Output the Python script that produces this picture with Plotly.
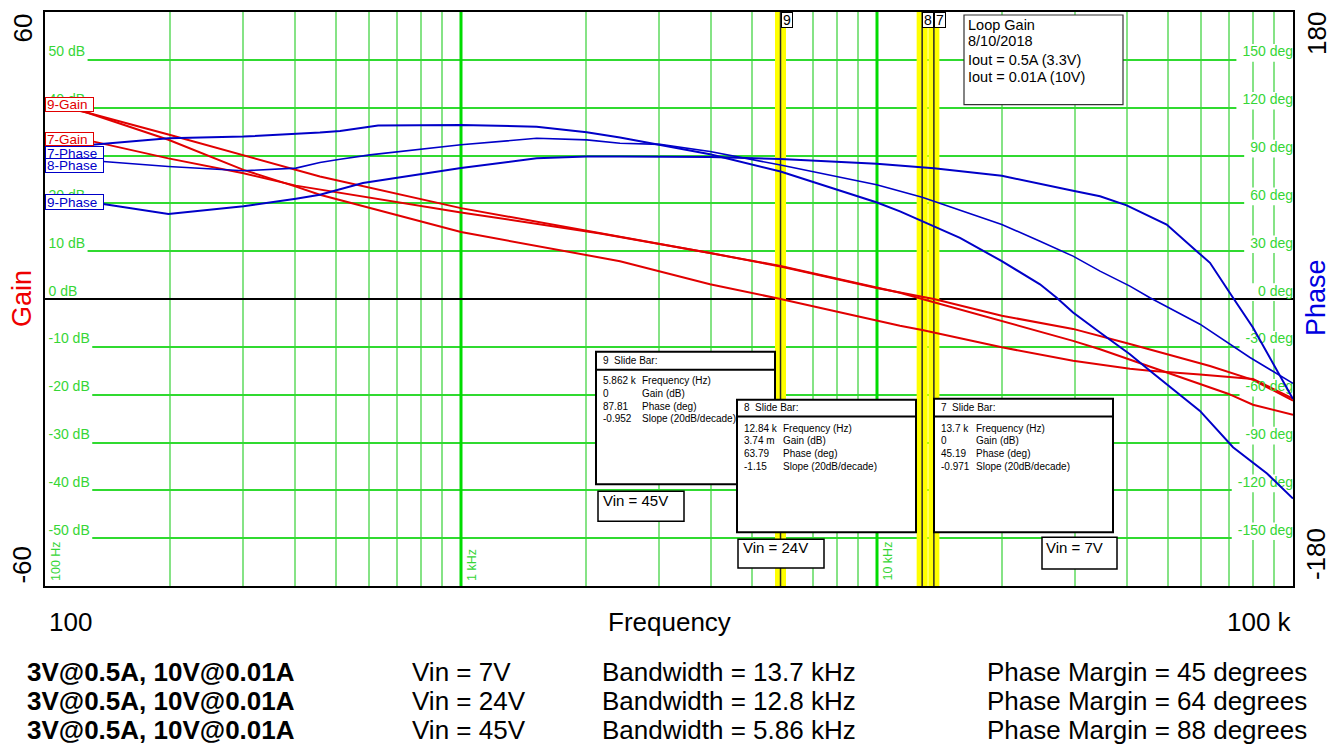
import math
import plotly.graph_objects as go

# ---------------- loop-gain sweep data (frequency in Hz) ----------------
gain_45v_hz = [100, 126, 198, 300, 401, 458, 1000, 2411, 3968, 5862, 11357, 12840,
               19950, 29600, 40550, 45300, 59750, 75800, 80100, 100000]
gain_45v_db = [41.5, 39.0, 33.3, 27.0, 23.5, 21.8, 14.0, 7.9, 3.1, 0.0, -5.6, -6.5,
               -10.1, -12.9, -14.6, -15.0, -15.8, -16.5, -16.7, -20.8]

gain_24v_hz = [100, 126, 198, 300, 458, 1000, 2160, 3968, 5862, 9980, 11357, 12840,
               19950, 29600, 34365, 40550, 49780, 69800, 80100, 100000]
gain_24v_db = [41.0, 39.0, 34.4, 30.1, 25.6, 19.0, 13.8, 9.6, 6.9, 2.35, 1.3, 0.00374,
               -4.6, -8.75, -10.5, -12.7, -15.4, -19.8, -22.1, -24.2]

gain_7v_hz = [100, 131, 198, 300, 401, 458, 1000, 2160, 3968, 5862, 9980, 13700,
              19950, 29600, 34365, 40550, 63160, 80100, 100000]
gain_7v_db = [33.5, 32.9, 29.4, 26.3, 23.7, 22.9, 18.1, 13.7, 9.6, 6.8, 2.3, 0.0,
              -3.5, -6.25, -7.7, -9.4, -14.0, -16.9, -21.25]

phase_7v_hz = [100, 130, 198, 300, 458, 512, 632, 1000, 1520, 2005, 2411, 3008, 3968,
               5862, 10000, 11357, 12840, 13700, 15830, 19950, 24650, 27040, 29600,
               34365, 40550, 45300, 59750, 71750, 86600, 100000]
phase_7v_deg = [95.5, 96.7, 100.8, 101.9, 104.4, 105.4, 108.75, 109.2, 108.1, 104.6,
                101.25, 96.7, 90.8, 80.0, 60.5, 55.0, 48.75, 45.19, 38.3, 23.75, 9.2,
                0.8, -8.5, -21.0, -34.6, -45.0, -70.2, -93.0, -109.4, -125.2]

phase_24v_hz = [100, 138, 198, 300, 401, 458, 512, 604, 1000, 1520, 2005, 2411, 3008,
                3968, 5862, 9980, 12840, 13700, 15830, 19950, 24650, 29600, 34365,
                40550, 45300, 59750, 78800, 100000]
phase_24v_deg = [87.0, 86.25, 83.1, 80.4, 82.1, 85.6, 87.6, 90.4, 96.7, 100.8, 99.8,
                 97.7, 97.0, 92.5, 84.0, 71.7, 63.79, 61.25, 56.0, 46.7, 36.25, 26.9,
                 17.5, 8.1, 0.8, -15.8, -36.7, -52.9]

phase_45v_hz = [100, 138, 198, 300, 401, 458, 581, 1000, 1520, 2005, 2411, 3968, 5862,
                9980, 13700, 19950, 29600, 34365, 39830, 49700, 58680, 63160, 71750,
                80100, 100000]
phase_45v_deg = [61.0, 59.6, 53.3, 58.1, 62.9, 65.4, 72.7, 82.1, 88.3, 89.4, 89.4, 89.0,
                 87.81, 84.8, 82.0, 77.3, 67.9, 64.4, 58.75, 46.7, 30.0, 22.7, 0.8,
                 -17.9, -62.7]

# ---------------- slide-bar readouts ----------------
bar_ids = ["9", "8", "7"]
bar_vin = ["Vin = 45V", "Vin = 24V", "Vin = 7V"]
bar_freq_hz = [5862, 12840, 13700]
bar_gain_text = ["0", "3.74 m", "0"]
bar_phase_deg = [87.81, 63.79, 45.19]
bar_slope = ["-0.952", "-1.15", "-0.971"]
readout_names = ["Frequency (Hz)", "Gain (dB)", "Phase (deg)", "Slope (20dB/decade)"]

load_text = "3V@0.5A, 10V@0.01A"
legend_lines = ["Loop Gain", "8/10/2018", "Iout = 0.5A (3.3V)", "Iout = 0.01A (10V)"]

gain_ticks_db = [50, 40, 30, 20, 10, 0, -10, -20, -30, -40, -50]
phase_ticks_deg = [150, 120, 90, 60, 30, 0, -30, -60, -90, -120, -150]
minor_freqs = [m * 10 ** d for d in (2, 3, 4) for m in range(2, 10)]
decade_freqs = [100, 1000, 10000]
decade_names = ["100 Hz", "1 kHz", "10 kHz"]

# ---------------- page geometry ----------------
W, H = 1335, 746
PL, PR, PT, PB = 45, 1293, 10, 586
DECADE_PX = (PR - PL) / 3
F_MIN, F_MAX = 100, 100000
DEG_PER_DB = 3  # phase scale (+-180) over gain scale (+-60)
FONT = "Arial, Liberation Sans, sans-serif"
RED = "#e10000"
BLUE = "#0000c8"
GRID_LBL = "#36d636"


def xd(f):
    """Frequency -> fraction of the log x-axis domain."""
    return (math.log10(f) - 2) / 3


def px(x):
    return (x - PL) / (PR - PL)


def py(y):
    return (PB - y) / (PB - PT)


def f_shift(f, pixels):
    """Frequency that lies `pixels` to the right of f on the log axis."""
    return f * 10 ** (pixels / DECADE_PX)


ARIAL_W = {"-": 0.333, " ": 0.278, "B": 0.667}


def text_w(s, size):
    return sum(ARIAL_W.get(c, 0.556) for c in s) * size


fig = go.Figure()

# grid labels drawn as text traces so the curves pass over them
LBL_SIZE = 14
fig.add_trace(go.Scatter(
    x=[f_shift(F_MIN, 3.5)] * len(gain_ticks_db), y=gain_ticks_db,
    text=[f"{v} dB" for v in gain_ticks_db], mode="text", textposition="top right",
    textfont=dict(family=FONT, size=LBL_SIZE, color=GRID_LBL),
    cliponaxis=False, hoverinfo="skip", yaxis="y"))
fig.add_trace(go.Scatter(
    x=[F_MAX] * len(phase_ticks_deg), y=phase_ticks_deg,
    text=[f"{v} deg" for v in phase_ticks_deg], mode="text", textposition="top left",
    textfont=dict(family=FONT, size=LBL_SIZE, color=GRID_LBL),
    cliponaxis=False, hoverinfo="skip", yaxis="y2"))

# gain curves
for hz, db in [(gain_7v_hz, gain_7v_db), (gain_24v_hz, gain_24v_db), (gain_45v_hz, gain_45v_db)]:
    fig.add_trace(go.Scatter(x=hz, y=db, mode="lines", line=dict(color=RED, width=2),
                             hoverinfo="skip", yaxis="y"))
# phase curves
for hz, deg, w in [(phase_7v_hz, phase_7v_deg, 2), (phase_24v_hz, phase_24v_deg, 1.6),
                   (phase_45v_hz, phase_45v_deg, 2)]:
    fig.add_trace(go.Scatter(x=hz, y=deg, mode="lines", line=dict(color=BLUE, width=w),
                             hoverinfo="skip", yaxis="y2"))

shapes = []


def vline(f, color, width):
    shapes.append(dict(type="line", xref="x", yref="y", x0=f, x1=f, y0=-60, y1=60,
                       line=dict(color=color, width=width), layer="between"))


# heavier decade lines
for f in decade_freqs[1:]:
    vline(f, "#00dc00", 3)
# white patches that break the horizontal grid behind the labels
for v in gain_ticks_db:
    w = text_w(f"{v} dB", LBL_SIZE) + 6
    shapes.append(dict(type="rect", xref="x", yref="y", x0=F_MIN, x1=f_shift(F_MIN, w),
                       y0=v - 0.4, y1=v + 3.3, fillcolor="white", line=dict(width=0),
                       layer="between"))
for v in phase_ticks_deg:
    w = text_w(f"{v} deg", LBL_SIZE) + 6
    shapes.append(dict(type="rect", xref="x", yref="y", x0=f_shift(F_MAX, -w), x1=F_MAX,
                       y0=(v - 1.2) / DEG_PER_DB, y1=(v + 9.9) / DEG_PER_DB,
                       fillcolor="white", line=dict(width=0), layer="between"))
# 0 dB reference line
shapes.append(dict(type="line", xref="x", yref="y", x0=F_MIN, x1=F_MAX, y0=0, y1=0,
                   line=dict(color="black", width=2), layer="between"))
# slide bars
for f in bar_freq_hz:
    vline(f, "#ffff00", 11)
for f in bar_freq_hz:
    vline(f, "#2a2a2a", 1.5)

annotations = []


def note(text, x, y, size, color="black", xanchor="left", yanchor="middle", angle=0,
         xshift=0, **kw):
    annotations.append(dict(text=text, x=x, y=y, xref="paper", yref="paper",
                            xanchor=xanchor, yanchor=yanchor, textangle=angle,
                            showarrow=False, xshift=xshift,
                            font=dict(family=FONT, size=size, color=color), **kw))


def box(x0, x1, y0, y1, width=1.5, color="black"):
    shapes.append(dict(type="rect", xref="paper", yref="paper", x0=px(x0), x1=px(x1),
                       y0=py(y1), y1=py(y0), fillcolor="white",
                       line=dict(color=color, width=width), layer="above"))


def hline(x0, x1, y, width=1.5):
    shapes.append(dict(type="line", xref="paper", yref="paper", x0=px(x0), x1=px(x1),
                       y0=py(y), y1=py(y), line=dict(color="black", width=width),
                       layer="above"))


# slide-bar readout panels
panel_geo = [
    dict(x0=596, x1=775, y0=351, y1=484, sep=369, head=359.5,
         rows=[380, 393, 405.5, 418.3], vx=600.5, lx=640,
         vin=(598, 684, 491, 521), vin_t=(601, 500.5)),
    dict(x0=737, x1=916, y0=399, y1=532, sep=416, head=406.5,
         rows=[427.7, 439.8, 452.7, 465.8], vx=741.5, lx=780.5,
         vin=(738, 824, 539, 568), vin_t=(741, 547.5)),
    dict(x0=934, x1=1113, y0=398, y1=532, sep=416, head=406.5,
         rows=[427.7, 440, 452.7, 465.8], vx=939, lx=974,
         vin=(1042, 1117, 537, 569), vin_t=(1044, 547)),
]
for i, g in enumerate(panel_geo):
    box(g["x0"], g["x1"], g["y0"], g["y1"], width=2)
    hline(g["x0"], g["x1"], g["sep"], width=2)
    note(f"{bar_ids[i]}\u00a0 Slide Bar:", px(g["vx"]), py(g["head"]), 10)
    values = [f"{bar_freq_hz[i] / 1000:.4g} k", bar_gain_text[i],
              f"{bar_phase_deg[i]:.2f}", bar_slope[i]]
    for r, (val, name) in enumerate(zip(values, readout_names)):
        note(val, px(g["vx"]), py(g["rows"][r]), 10)
        note(name, px(g["lx"]), py(g["rows"][r]), 10)
    vx0, vx1, vy0, vy1 = g["vin"]
    box(vx0, vx1, vy0, vy1, width=1.5)
    note(bar_vin[i], px(g["vin_t"][0]), py(g["vin_t"][1]), 15)

# numbered tags at the top of each slide bar
for bid, f in zip(bar_ids, bar_freq_hz):
    annotations.append(dict(text=bid, x=xd(f), y=1, xref="paper", yref="paper",
                            xanchor="left", yanchor="top", showarrow=False,
                            font=dict(family=FONT, size=14, color="black"),
                            bgcolor="white", bordercolor="black", borderwidth=1,
                            borderpad=1, width=8, height=12))

# info panel
box(964, 1123, 13, 103, width=1.2, color="#333333")
for line, yy in zip(legend_lines, [22.7, 39.5, 57.7, 75]):
    note(line, px(966), py(yy), 14.5)

# series tags at the start of each curve
curve_tags = [("9-Gain", RED, 95, 110, 94), ("7-Gain", RED, 130, 144, 94),
              ("7-Phase", BLUE, 144, 159, 104), ("8-Phase", BLUE, 157, 172, 104),
              ("9-Phase", BLUE, 193, 209, 104)]
for txt, col, t, b, r in curve_tags:
    annotations.append(dict(text=txt, x=px(PL), y=py(t), xref="paper", yref="paper",
                            xanchor="left", yanchor="top", showarrow=False, align="left",
                            font=dict(family=FONT, size=13.5, color=col),
                            bgcolor="white", bordercolor=col, borderwidth=1, borderpad=1,
                            width=r - PL - 4, height=b - t - 4))

# decade captions along the bottom of the grid
for name, f in zip(decade_names, decade_freqs):
    annotations.append(dict(text=name, x=xd(f), y=py(583), xref="paper", yref="paper",
                            xanchor="left", yanchor="bottom", textangle=-90, xshift=2,
                            showarrow=False,
                            font=dict(family=FONT, size=12.5, color=GRID_LBL)))

# axis captions
note("60", px(22.5), py(26), 26, xanchor="center", angle=-90)
note("-60", px(22.5), py(565), 26, xanchor="center", angle=-90)
note("Gain", px(22), py(298), 27, color="#ee0000", xanchor="center", angle=-90)
note("180", px(1317), py(32), 26, xanchor="center", angle=-90)
note("-180", px(1316), py(554), 26, xanchor="center", angle=-90)
note("Phase", px(1316), py(297), 27, color="#0000e0", xanchor="center", angle=-90)
note("100", px(70), py(622), 26, xanchor="center")
note("Frequency", px(669), py(622), 26, xanchor="center")
note("100 k", px(1259), py(622), 26, xanchor="center")

# summary table, lowest input voltage first
for row, i in enumerate(reversed(range(len(bar_ids)))):
    yy = py(672 + row * 29.5)
    note(f"<b>{load_text}</b>", px(25), yy, 26)
    note(bar_vin[i], px(410), yy, 26)
    note(f"Bandwidth = {bar_freq_hz[i] / 1000:.3g} kHz", px(600), yy, 26)
    note(f"Phase Margin = {round(bar_phase_deg[i])} degrees", px(985), yy, 26)

fig.update_layout(
    width=W, height=H,
    margin=dict(l=PL, r=W - PR, t=PT, b=H - PB, pad=0),
    paper_bgcolor="white", plot_bgcolor="white", showlegend=False,
    font=dict(family=FONT),
    xaxis=dict(type="log", range=[2, 5], tickvals=minor_freqs, showticklabels=False,
               ticks="", showgrid=True, gridcolor="#86e386", gridwidth=2,
               zeroline=False, showline=True, mirror=True, linecolor="black",
               linewidth=2),
    yaxis=dict(range=[-60, 60], tick0=0, dtick=10, showticklabels=False, ticks="",
               showgrid=True, gridcolor="#30da30", gridwidth=2, zeroline=False,
               showline=True, mirror=True, linecolor="black", linewidth=2),
    yaxis2=dict(range=[-180, 180], overlaying="y", side="right", showgrid=False,
                showticklabels=False, ticks="", zeroline=False, showline=False),
    shapes=shapes,
    annotations=annotations,
)

fig.write_html("out.html")
